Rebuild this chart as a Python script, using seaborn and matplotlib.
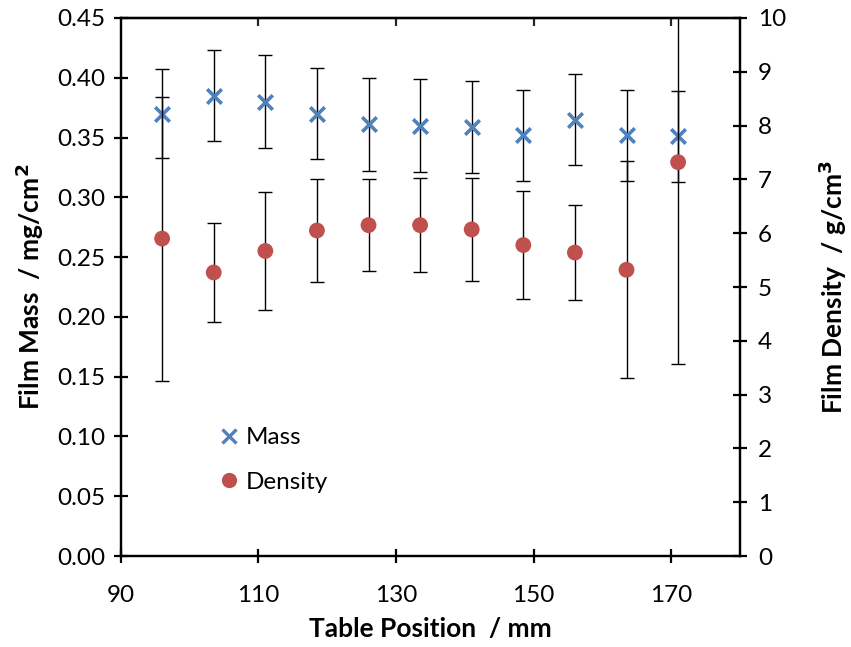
import matplotlib
matplotlib.use("Agg")
import matplotlib.pyplot as plt
from matplotlib.lines import Line2D
import seaborn as sns
import pandas as pd

# Measured film properties along the deposition table
position = [96, 103.5, 111, 118.5, 126, 133.5, 141, 148.5, 156, 163.5, 171]
mass = [0.370, 0.385, 0.380, 0.370, 0.361, 0.360, 0.359, 0.352, 0.365, 0.352, 0.351]
mass_err = [0.037, 0.038, 0.039, 0.038, 0.039, 0.039, 0.0385, 0.038, 0.038, 0.038, 0.038]
density = [5.90, 5.27, 5.67, 6.05, 6.15, 6.15, 6.07, 5.78, 5.64, 5.32, 7.32]
density_err = [2.64, 0.92, 1.10, 0.96, 0.86, 0.87, 0.96, 1.01, 0.88, 2.02, 3.75]

x_ticks = [90, 110, 130, 150, 170]
mass_ticks = [0.00, 0.05, 0.10, 0.15, 0.20, 0.25, 0.30, 0.35, 0.40, 0.45]
density_ticks = list(range(0, 11))

df = pd.DataFrame({"position": position, "mass": mass, "mass_err": mass_err,
                   "density": density, "density_err": density_err})

sns.set_theme(style="white")
plt.rcParams["font.family"] = ["Lato", "DejaVu Sans"]
plt.rcParams["text.color"] = "black"
plt.rcParams["axes.labelcolor"] = "black"

BLUE = "#4F81BD"
RED = "#C0504D"
FS = 17.5
LFS = 19

fig = plt.figure(figsize=(8.51, 6.47), dpi=100)
ax = fig.add_axes([0.142, 0.1406, 0.7276, 0.8316])
ax2 = ax.twinx()

# mass: error bars then markers
ax.errorbar(df["position"], df["mass"], yerr=df["mass_err"], fmt="none",
            ecolor="black", elinewidth=1.0, capsize=5, capthick=1.0, zorder=2)
sns.scatterplot(data=df, x="position", y="mass", ax=ax, marker="x", s=110,
                color=BLUE, linewidth=2.6, zorder=3, legend=False)

# density on the secondary axis
ax2.errorbar(df["position"], df["density"], yerr=df["density_err"], fmt="none",
             ecolor="black", elinewidth=1.0, capsize=5, capthick=1.0, zorder=2)
sns.scatterplot(data=df, x="position", y="density", ax=ax2, marker="o", s=130,
                color=RED, edgecolor="none", zorder=3, legend=False)

ax.set_xlim(90, 180)
ax.set_ylim(0, 0.45)
ax2.set_ylim(0, 10)
ax.set_xticks(x_ticks)
ax.set_yticks(mass_ticks)
ax.set_yticklabels([f"{v:.2f}" for v in mass_ticks])
ax2.set_yticks(density_ticks)

for a in (ax, ax2):
    for sp in a.spines.values():
        sp.set_linewidth(1.6)
        sp.set_color("black")

ax.tick_params(axis="both", direction="inout", length=10, width=1.6,
               labelsize=FS, colors="black", pad=6, left=True, bottom=True)
ax.tick_params(axis="x", pad=16)
ax2.tick_params(axis="y", direction="inout", length=10, width=1.6,
                labelsize=FS, colors="black", pad=8, right=True)

top = ax.secondary_xaxis("top")
top.set_xticks(x_ticks[1:])
top.tick_params(direction="in", length=6, width=1.6, labeltop=False)
top.spines["top"].set_linewidth(1.6)

ax.set_xlabel("Table Position  / mm", fontsize=LFS, fontweight="bold", labelpad=8)
ax.set_ylabel("Film Mass  / mg/cm$^\\mathbf{2}$", fontsize=LFS, fontweight="bold", labelpad=8)
ax2.set_ylabel("Film Density  / g/cm$^\\mathbf{3}$", fontsize=LFS, fontweight="bold",
               rotation=90, labelpad=22)

handles = [
    Line2D([], [], linestyle="none", marker="x", color=BLUE, markersize=10,
           markeredgewidth=2.4, label="Mass"),
    Line2D([], [], linestyle="none", marker="o", color=RED, markersize=11,
           markeredgewidth=0, label="Density"),
]
ax2.legend(handles=handles, loc="upper left", bbox_to_anchor=(0.135, 0.257),
           frameon=False, fontsize=FS, handletextpad=0.1, handlelength=1.2,
           labelspacing=0.95, borderaxespad=0)

fig.savefig("out.png", dpi=100)
